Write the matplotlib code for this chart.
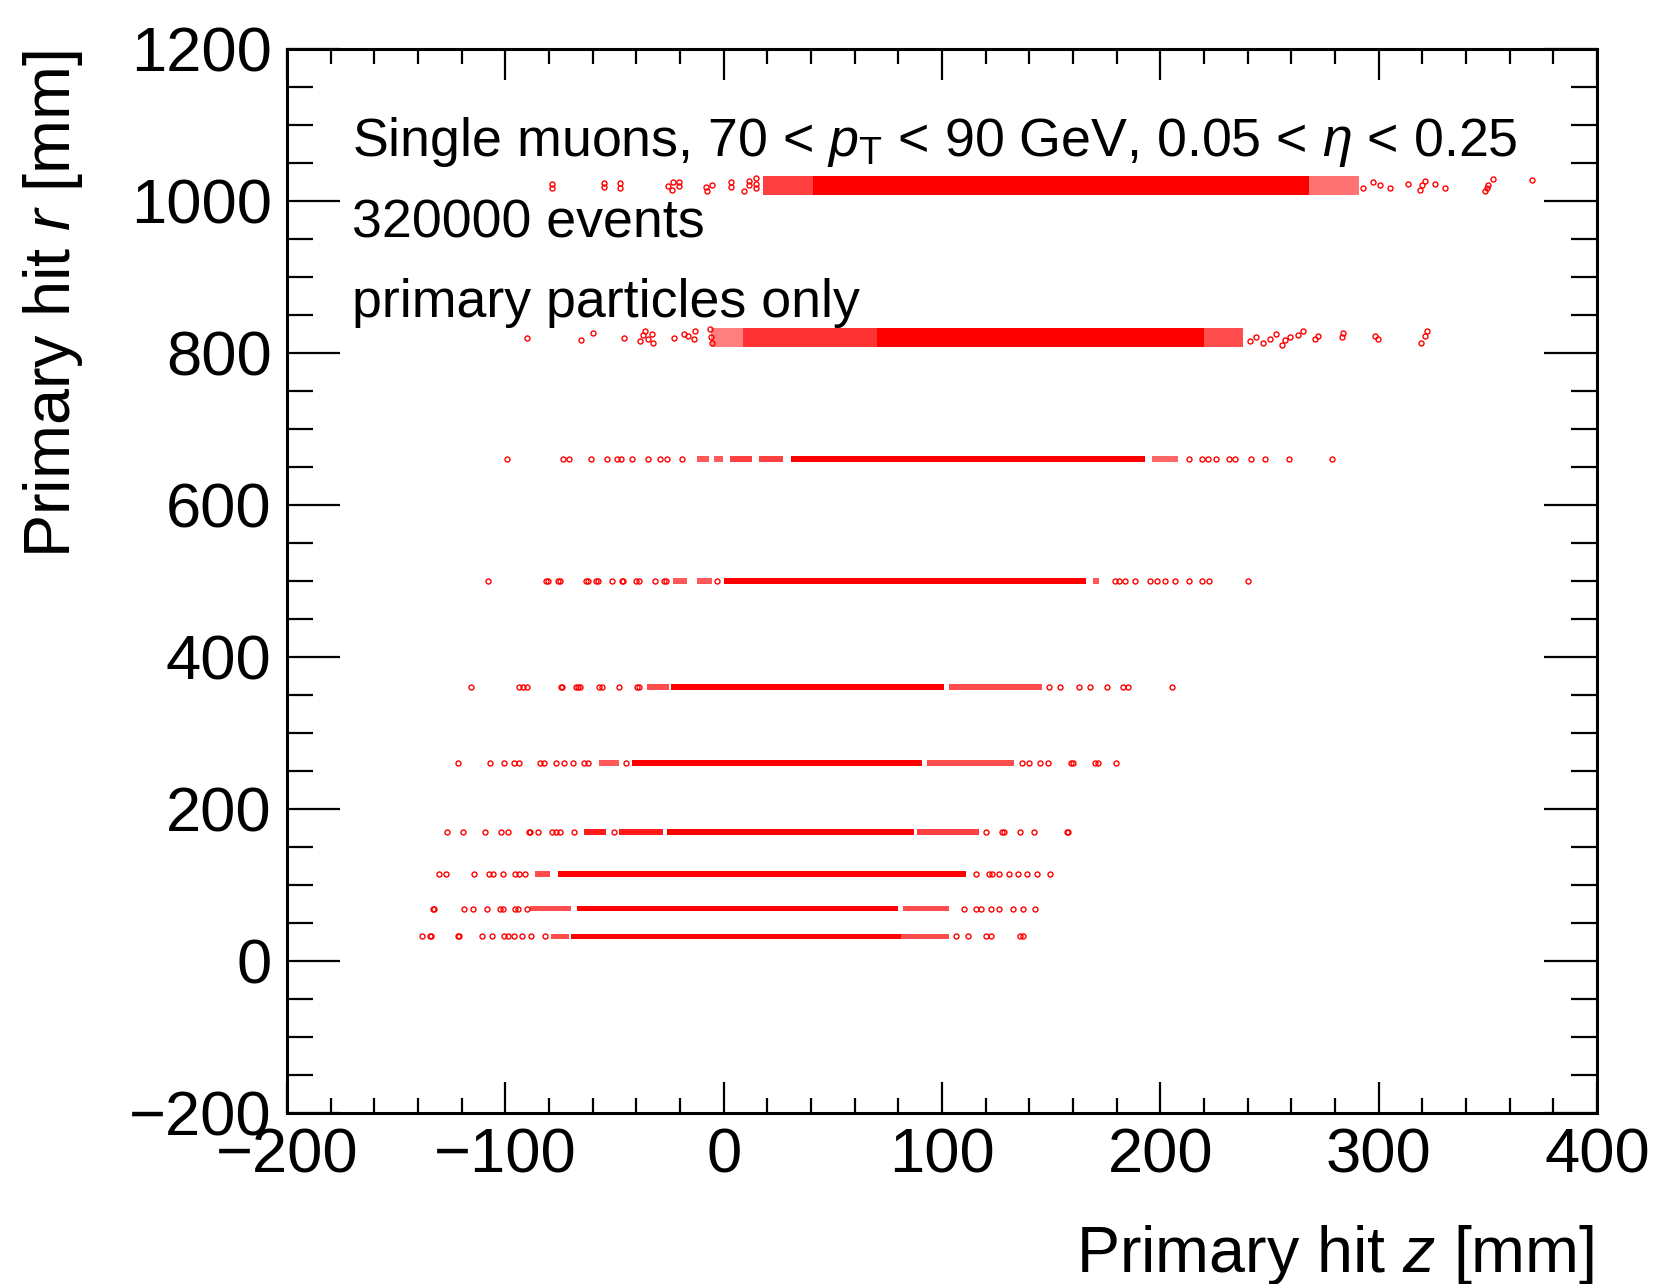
import matplotlib
matplotlib.use("Agg")
import matplotlib.pyplot as plt
from matplotlib.ticker import MultipleLocator

plt.rcParams['font.family'] = ['Liberation Sans', 'DejaVu Sans']
plt.rcParams['mathtext.fontset'] = 'custom'
plt.rcParams['mathtext.rm'] = 'Liberation Sans'
plt.rcParams['mathtext.it'] = 'Liberation Sans:italic'
plt.rcParams['mathtext.bf'] = 'Liberation Sans:bold'
plt.rcParams['axes.unicode_minus'] = True

# ---------------- data ----------------
layer_r = [32, 68, 114, 169, 260, 360, 500, 660, 820, 1020]
layer_dr = [7, 7, 7, 7, 8, 8, 8, 7, 25, 25]          # radial spread of the dense band

# dense / medium-density z segments per layer: (z_lo, z_hi, density)
layer_segments = [
    [(-70, 81, 1.0), (-79, -71, 0.7), (81, 103, 0.7)],
    [(-67, 80, 1.0), (-88.5, -70, 0.7), (82, 103, 0.7)],
    [(-76, 111, 1.0), (-86.6, -79.7, 0.7)],
    [(-26, 87, 1.0), (-64, -54, 0.9), (-48, -28, 0.9), (88.6, 117, 0.75)],
    [(-42, 91, 1.0), (-57, -48, 0.65), (93, 133, 0.7)],
    [(-24, 101, 1.0), (-35, -25, 0.7), (103, 146, 0.7)],
    [(0, 166, 1.0), (-23, -17, 0.65), (-12, -5.5, 0.65), (169, 172, 0.65)],
    [(31, 193, 1.0), (-12.4, -6.7, 0.65), (-4.2, -0.5, 0.65), (3, 13, 0.75), (16, 27, 0.75), (196, 208, 0.6)],
    [(70, 220, 1.0), (9, 70, 0.8), (220, 238, 0.7), (-6, 9, 0.5)],
    [(41, 268, 1.0), (18, 41, 0.75), (268, 291, 0.55)],
]

# isolated hits: z values and r values per layer
sparse_z = [
    [-138.2, -134.5, -134, -121.6, -121, -110.9, -105.9, -100.4, -99, -96.2, -92.5, -88.1, -82,
     106.6, 112.1, 120, 122.5, 135.5, 137],
    [-133, -132.5, -118.9, -114.8, -108.4, -102.3, -101, -95.8, -94, -90.3,
     110.3, 115.8, 118, 122.3, 125.9, 132.3, 137, 142.5],
    [-130.2, -127, -114.3, -107.7, -105.5, -101.2, -95.6, -93.7, -90.9,
     115.7, 121.3, 123, 126, 130.6, 134.9, 139, 143.7, 149.3],
    [-126.7, -119.5, -109.1, -102.2, -98.7, -89, -88.5, -85, -78.7, -77, -74.8, -68.6, -50.4,
     120.3, 127.7, 128.5, 135.6, 142, 157.1, 157.5],
    [-121.8, -106.9, -100.5, -96.2, -93.6, -84, -82.1, -76.7, -73.3, -69.2, -63.8, -62, -44.9,
     136.8, 140, 145, 148.7, 159.1, 160, 170.2, 171.5, 179.5],
    [-115.6, -93.7, -92, -90, -74.5, -74, -67.5, -66.8, -66, -57, -55.5, -48, -39.9, -39,
     148.8, 154.1, 162.6, 168, 175.5, 183, 185, 205.3],
    [-108.1, -81.6, -80.5, -75.9, -75, -63.2, -62, -58.5, -57.5, -51.2, -46.5, -45.9, -40.1, -39,
     -31.6, -27.4, -26.5, -3.2, 179.2, 181, 183.8, 188.4, 195.3, 198.7, 202.2, 206.8, 213.3,
     219.1, 222.5, 240.3],
    [-99.3, -73.7, -70.7, -60.8, -53.4, -48.9, -47.2, -42.2, -34.5, -29, -25.8, -19.1,
     213, 219.2, 222, 225.4, 231.6, 234.1, 241.6, 247.8, 258.9, 278.8],
    [-90.2, -65.5, -60, -45.5, -38.5, -37, -36, -34.5, -33, -32.5, -22.8, -18.2, -16.5, -13.1,
     -13.5, -6.3, -6, -5.5, 241, 244, 247, 250, 253, 255.6, 257, 259.4, 263.2, 265.5, 271, 272,
     283, 283.5, 298.5, 299.5, 319.5, 321, 322],
    [-78.5, -78.5, -54.8, -54.8, -47.5, -47.5, -25.4, -23.8, -23, -20.3, -20.3, -8.2, -7.5, -5.2,
     3.2, 3.2, 9.3, 11.7, 11.7, 14.8, 14.8, 14.8, 293, 297.6, 300.6, 305.2, 313.6, 318.9, 320,
     321.2, 325.8, 330.4, 348.7, 349.5, 350.2, 352.5, 370.1],
]
sparse_r = [
    [32] * 19,
    [68] * 18,
    [114] * 18,
    [169] * 20,
    [260] * 22,
    [360] * 22,
    [500] * 30,
    [660] * 22,
    [819, 817, 826, 819, 815, 823, 829, 818, 825, 812, 819, 825, 822, 829,
     818, 831, 820, 813, 815, 821, 812, 818, 824, 810, 816, 820, 823, 829, 818, 822,
     820, 826, 822, 818, 813, 822, 829],
    [1022, 1016, 1023, 1018, 1023, 1017, 1019, 1014, 1024, 1025, 1019, 1018, 1013, 1020,
     1024, 1018, 1013, 1021, 1026, 1030, 1022, 1016, 1016, 1024, 1021, 1017, 1022, 1014, 1020,
     1026, 1022, 1017, 1012, 1016, 1020, 1029, 1027],
]

info_lines = ["Single muons, 70 < $p_{\\mathrm{T}}$ < 90 GeV, 0.05 < $\\eta$ < 0.25",
              "320000 events",
              "primary particles only"]
x_title = "Primary hit $z$ [mm]"
y_title = "Primary hit $r$ [mm]"

# ---------------- figure ----------------
W, H = 1655, 1284
fig = plt.figure(figsize=(W / 100, H / 100), dpi=100)
ax = fig.add_axes([287 / W, 1 - 1112.5 / H, (1597 - 287) / W, (1112.5 - 48.6) / H])

red = '#ff0000'
for r, dr, segs in zip(layer_r, layer_dr, layer_segments):
    for zlo, zhi, dens in segs:
        ax.barh(r, zhi - zlo, left=zlo, height=dr, color=red, alpha=dens, linewidth=0)

for zs, rs in zip(sparse_z, sparse_r):
    ax.plot(zs, rs, linestyle='none', marker='o', markersize=3.6, markerfacecolor='none',
            markeredgecolor=red, markeredgewidth=1.0)

ax.set_xlim(-200, 400)
ax.set_ylim(-200, 1200)
ax.xaxis.set_major_locator(MultipleLocator(100))
ax.xaxis.set_minor_locator(MultipleLocator(20))
ax.yaxis.set_major_locator(MultipleLocator(200))
ax.yaxis.set_minor_locator(MultipleLocator(50))

for s in ax.spines.values():
    s.set_linewidth(2.2)
ax.tick_params(axis='both', which='both', direction='in', top=True, right=True, width=1.6)
ax.tick_params(axis='x', which='major', length=22, labelsize=45.5, pad=10)
ax.tick_params(axis='x', which='minor', length=11)
ax.tick_params(axis='y', which='major', length=38, labelsize=45.5, pad=11)
ax.tick_params(axis='y', which='minor', length=19)

fig.text(1594 / W, 1 - 1272 / H, x_title, ha='right', va='baseline', fontsize=46.5)
fig.text(53 / W, 1 - 50 / H, y_title, ha='center', va='top', rotation=90, fontsize=46.6)

for txt, yb in zip(info_lines, [156, 237, 317]):
    fig.text(352 / W, 1 - yb / H, txt, ha='left', va='baseline', fontsize=38.7)

fig.savefig('out.png', dpi=100)
